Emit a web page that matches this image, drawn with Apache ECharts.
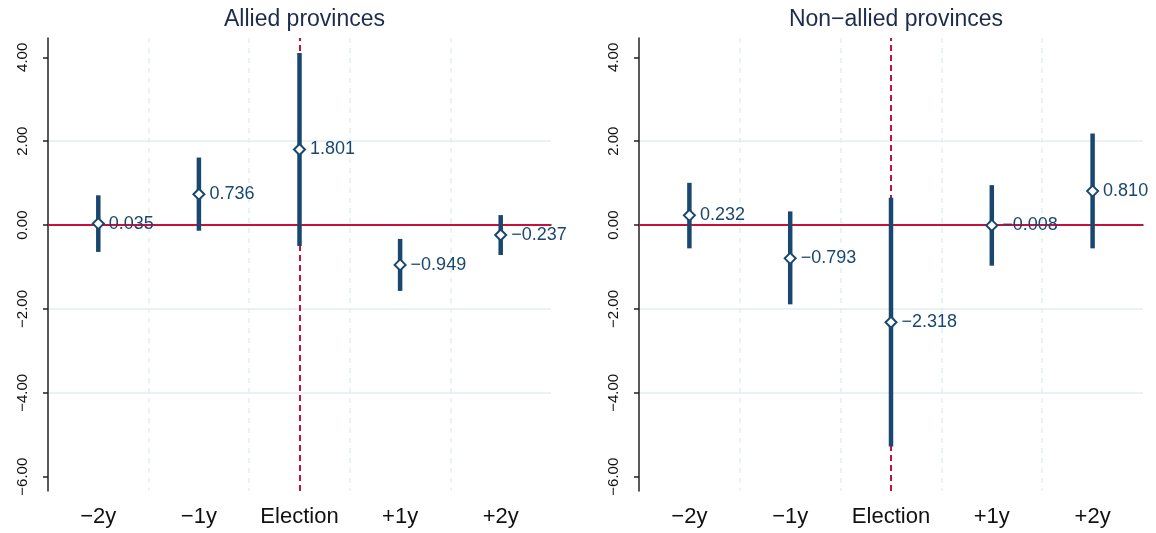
<!DOCTYPE html>
<html>
<head>
<meta charset="utf-8">
<script src="https://cdn.jsdelivr.net/npm/echarts@6/dist/echarts.min.js"></script>
<style>
  html, body { margin: 0; padding: 0; background: #fff; }
  #chart { width: 1156px; height: 533px; }
</style>
</head>
<body>
<div id="chart"></div>
<script>
// categories and tick labels
const categories = ["\u22122y", "\u22121y", "Election", "+1y", "+2y"];
const yTicks = [-6, -4, -2, 0, 2, 4];
const panelTitles = ["Allied provinces", "Non\u2212allied provinces"];

// allied provinces: point estimates and confidence bounds
const alliedPoint = [0.035, 0.736, 1.801, -0.949, -0.237];
const alliedLower = [-0.64, -0.135, -0.50, -1.57, -0.714];
const alliedUpper = [0.71, 1.61, 4.10, -0.33, 0.238];

// non-allied provinces
const nonAlliedPoint = [0.232, -0.793, -2.318, -0.008, 0.810];
const nonAlliedLower = [-0.555, -1.89, -5.28, -0.968, -0.555];
const nonAlliedUpper = [1.007, 0.326, 0.65, 0.952, 2.183];

const navy = "#1a476f";
const red = "#c8103c";
const gridColor = "#e4eef0";
const font = "Liberation Sans, Arial, Helvetica, sans-serif";

const fmtNum = (v, d) => v.toFixed(d).replace("-", "\u2212");

const chart = echarts.init(document.getElementById("chart"));

const grids = [
  { left: 48, top: 38, width: 503, height: 453 },
  { left: 639, top: 38, width: 504, height: 453 },
];

const panels = [
  { point: alliedPoint, lower: alliedLower, upper: alliedUpper },
  { point: nonAlliedPoint, lower: nonAlliedLower, upper: nonAlliedUpper },
];

const xAxes = grids.map((g, i) => ({
  type: "category",
  gridIndex: i,
  data: categories,
  boundaryGap: true,
  axisLine: { lineStyle: { color: "#222", width: 1.5 } },
  axisTick: { alignWithLabel: true, interval: 0, length: 7, lineStyle: { color: "#222", width: 1.5 } },
  axisLabel: { interval: 0, color: "#111", fontSize: 22, fontFamily: font, margin: 15 },
  splitLine: {
    show: true,
    interval: 0,
    showMinLine: false,
    showMaxLine: false,
    lineStyle: { color: gridColor, width: 1.5, type: [5, 5] },
  },
}));

const yAxes = grids.map((g, i) => ({
  type: "value",
  gridIndex: i,
  min: -6.34,
  max: 4.46,
  axisLine: { show: true, lineStyle: { color: "#222", width: 1.5 } },
  axisTick: { show: true, length: 5, customValues: yTicks, lineStyle: { color: "#222", width: 1.5 } },
  axisLabel: {
    customValues: yTicks,
    rotate: 90,
    color: "#111",
    fontSize: 15,
    fontFamily: font,
    margin: 18,
    formatter: (v) => fmtNum(v, 2),
  },
  splitLine: {
    show: true,
    showMinLine: false,
    showMaxLine: false,
    lineStyle: { color: gridColor, width: 1.5 },
  },
}));

const series = [];
panels.forEach((p, i) => {
  // reference lines
  series.push({
    type: "line",
    xAxisIndex: i,
    yAxisIndex: i,
    data: [],
    z: 1,
    silent: true,
    markLine: {
      silent: true,
      z: 1,
      symbol: ["none", "none"],
      label: { show: false },
      data: [
        { yAxis: 0, lineStyle: { color: red, width: 2, type: "solid", opacity: 1 } },
        { xAxis: "Election", lineStyle: { color: red, width: 2, type: [6, 4], opacity: 1 } },
      ],
    },
  });
  // confidence intervals
  series.push({
    type: "custom",
    xAxisIndex: i,
    yAxisIndex: i,
    z: 3,
    data: categories.map((c, k) => [k, p.lower[k], p.upper[k]]),
    renderItem: (params, api) => {
      const a = api.coord([api.value(0), api.value(2)]);
      const b = api.coord([api.value(0), api.value(1)]);
      return {
        type: "line",
        shape: { x1: a[0], y1: a[1], x2: b[0], y2: b[1] },
        style: { stroke: navy, lineWidth: 4.5 },
      };
    },
  });
  // point estimates
  series.push({
    type: "scatter",
    xAxisIndex: i,
    yAxisIndex: i,
    z: 4,
    symbol: "diamond",
    symbolSize: 11,
    itemStyle: { color: "#fff", borderColor: navy, borderWidth: 2, opacity: 1 },
    data: categories.map((c, k) => [k, p.point[k]]),
    label: {
      show: true,
      position: "right",
      distance: 4,
      color: navy,
      fontSize: 18,
      fontFamily: font,
      formatter: (d) => fmtNum(d.value[1], 3),
    },
  });
});

chart.setOption({
  animation: false,
  backgroundColor: "#fff",
  title: panelTitles.map((t, i) => ({
    text: t,
    left: grids[i].left + grids[i].width / 2,
    textAlign: "center",
    top: 3,
    textStyle: { color: "#1d2c4e", fontSize: 23, fontWeight: "normal", fontFamily: font },
  })),
  grid: grids,
  xAxis: xAxes,
  yAxis: yAxes,
  series: series,
});
</script>
</body>
</html>
